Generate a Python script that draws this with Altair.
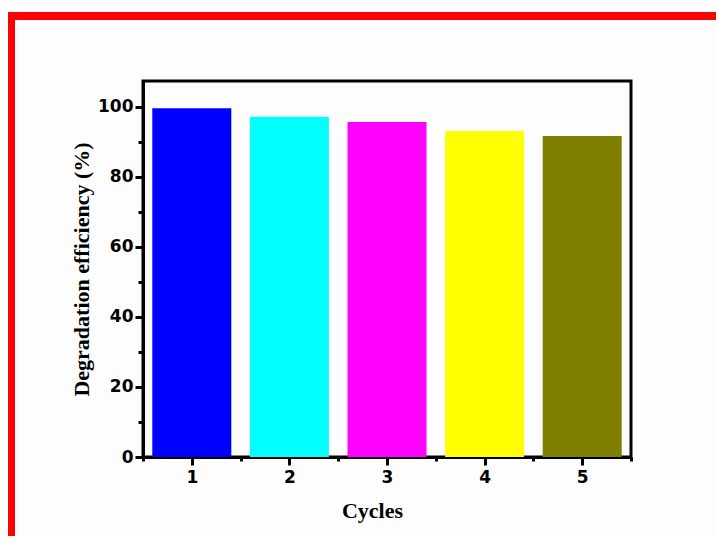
import altair as alt
import pandas as pd

cycles = [1, 2, 3, 4, 5]
efficiency = [99.6, 97.2, 95.7, 93.1, 91.7]
bar_colors = ["#0000FF", "#00FFFF", "#FF00FF", "#FFFF00", "#808000"]
y_ticks = [0, 10, 20, 30, 40, 50, 60, 70, 80, 90, 100]
x_ticks = [0.5, 1, 1.5, 2, 2.5, 3, 3.5, 4, 4.5, 5, 5.5]

df = pd.DataFrame({"Cycles": cycles, "Eff": efficiency, "Color": bar_colors})

W, H = 488, 376
PAD_L, PAD_T = 135, 73

bars = alt.Chart(df).mark_bar(size=79).encode(
    x=alt.X("Cycles:Q",
            scale=alt.Scale(domain=[0.5, 5.5], nice=False, zero=False, padding=0),
            axis=alt.Axis(
                values=x_ticks,
                labelExpr="datum.value % 1 == 0 ? replace(datum.label, '.0', '') : ''",
                tickSize={"condition": {"test": "datum.value % 1 == 0", "value": 8}, "value": 4},
                labelPadding=4,
                title="Cycles",
                titleX=229,
                titlePadding=15,
            )),
    y=alt.Y("Eff:Q",
            scale=alt.Scale(domain=[0, 107.4], nice=False),
            axis=alt.Axis(
                values=y_ticks,
                labelExpr="datum.value % 20 == 0 ? datum.label : ''",
                tickSize={"condition": {"test": "datum.value % 20 == 0", "value": 8}, "value": 5},
                title="Degradation efficiency (%)",
                titlePadding=4,
            )),
    color=alt.Color("Color:N", scale=None),
)

frame_df = pd.DataFrame({"a": [0]})
left_bar = alt.Chart(frame_df).mark_rect(color="#FF0000").encode(
    x=alt.value(-PAD_L - 1), x2=alt.value(-PAD_L + 7),
    y=alt.value(-PAD_T + 4), y2=alt.value(600),
)
top_bar = alt.Chart(frame_df).mark_rect(color="#FF0000").encode(
    x=alt.value(-PAD_L - 1), x2=alt.value(700),
    y=alt.value(-PAD_T + 4), y2=alt.value(-PAD_T + 12),
)

chart = alt.layer(left_bar, top_bar, bars).properties(
    width=W, height=H,
    autosize=alt.AutoSizeParams(type="none"),
    padding={"left": PAD_L, "top": PAD_T, "right": 708 - PAD_L - W, "bottom": 528 - PAD_T - H},
    background="#FDFDFD",
).configure_view(
    stroke="black", strokeWidth=3,
).configure_axis(
    domainColor="black", domainWidth=3,
    tickColor="black", tickWidth=3,
    labelFont="DejaVu Sans", labelFontWeight="bold", labelFontSize=17, labelColor="black",
    labelPadding=2,
    titleFont="Liberation Serif", titleFontWeight="bold", titleFontSize=22, titleColor="black",
    grid=False,
)

chart.save("out.html", embed_options={"renderer": "svg", "actions": False})
